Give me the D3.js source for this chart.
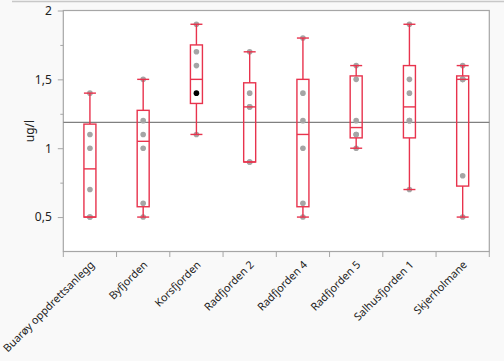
<!DOCTYPE html>
<html><head><meta charset="utf-8">
<script src="https://cdn.jsdelivr.net/npm/d3@7"></script>
<style>body{margin:0;background:#f9f9f9;}svg{display:block;}text{font-family:"Noto Sans","Open Sans",sans-serif;}</style>
</head><body>
<script>
const categories = ["Buarøy oppdrettsanlegg","Byfjorden","Korsfjorden","Radfjorden 2","Radfjorden 4","Radfjorden 5","Salhusfjorden 1","Skjerholmane"];
const values = [
  [0.5,0.5,0.7,1.0,1.1,1.4],
  [0.5,0.6,1.0,1.1,1.2,1.5],
  [1.1,1.4,1.4,1.6,1.7,1.9],
  [0.9,0.9,1.3,1.3,1.4,1.7],
  [0.5,0.6,1.0,1.2,1.4,1.8],
  [1.0,1.1,1.1,1.2,1.5,1.6],
  [0.7,1.2,1.2,1.4,1.5,1.9],
  [0.5,0.8,1.5,1.5,1.5,1.6]
];
const highlighted = [{cat:"Korsfjorden", value:1.4}];
const yTicks = [0.5,1,1.5,2];
const yMinorTicks = [0.75,1.25,1.75];
const yTickLabels = ["0,5","1","1,5","2"];
const yLabel = "ug/l";

const W=504,H=361;
const m={l:63.3,r:489.3,t:10.5,b:251.5};
const svg=d3.select("body").append("svg").attr("width",W).attr("height",H);
svg.append("rect").attr("width",W).attr("height",H).attr("fill","#f9f9f9");
svg.append("line").attr("x1",12).attr("x2",W).attr("y1",1.5).attr("y2",1.5).attr("stroke","#c8c8c8").attr("stroke-width",1.5);

const x=d3.scaleBand().domain(categories).range([m.l,m.r]);
const y=d3.scaleLinear().domain([0.25,2]).range([m.b,m.t]);

svg.append("rect").attr("x",m.l).attr("y",m.t).attr("width",m.r-m.l).attr("height",m.b-m.t).attr("fill","#fff").attr("stroke","#a6a6a6").attr("stroke-width",1.2);

// y axis
const ya=svg.append("g").attr("transform",`translate(${m.l},0)`)
  .call(d3.axisLeft(y).tickValues(yTicks).tickSize(5.5).tickFormat((d,i)=>yTickLabels[i]));
ya.select(".domain").remove();
ya.selectAll("line").attr("stroke","#a6a6a6");
ya.selectAll("text").attr("font-size",12).attr("fill","#222").attr("dx",-3);
const ym=svg.append("g").attr("transform",`translate(${m.l},0)`)
  .call(d3.axisLeft(y).tickValues(yMinorTicks).tickSize(3).tickFormat(""));
ym.select(".domain").remove();
ym.selectAll("line").attr("stroke","#a6a6a6");

// x axis
const xa=svg.append("g").attr("transform",`translate(0,${m.b})`)
  .call(d3.axisBottom(x).tickSize(0).tickFormat(""));
xa.select(".domain").remove();
const bounds=categories.map(c=>x(c)).concat([x(categories[categories.length-1])+x.bandwidth()]);
svg.append("g").selectAll("line").data(bounds).join("line")
  .attr("x1",d=>d).attr("x2",d=>d).attr("y1",m.b).attr("y2",m.b+5.5).attr("stroke","#a6a6a6");
svg.append("g").selectAll("text").data(categories).join("text")
  .attr("transform",d=>`translate(${x(d)+x.bandwidth()/2+5},${m.b+14}) rotate(-45)`)
  .attr("text-anchor","end").attr("font-size",10.8).attr("fill","#222").text(d=>d);

svg.append("text").attr("transform",`translate(34,${(m.t+m.b)/2}) rotate(-90)`)
  .attr("text-anchor","middle").attr("font-size",12).attr("fill","#222").text(yLabel);

// grand mean
const all=values.flat();
const gm=d3.mean(all);
svg.append("line").attr("x1",m.l).attr("x2",m.r).attr("y1",y(gm)).attr("y2",y(gm)).attr("stroke","#808080").attr("stroke-width",1.2);

function q(arr,p){const s=arr.slice().sort(d3.ascending);const n=s.length;const pos=p*(n+1);const i=Math.floor(pos);const f=pos-i;if(i<1)return s[0];if(i>=n)return s[n-1];return s[i-1]+f*(s[i]-s[i-1]);}
const red="#e8334d";
const bw=12;
const g=svg.append("g");
categories.forEach((c,ci)=>{
  const v=values[ci];
  const cx=x(c)+x.bandwidth()/2;
  const q1=q(v,0.25),md=q(v,0.5),q3=q(v,0.75);
  const iqr=q3-q1;
  const lo=d3.min(v.filter(d=>d>=q1-1.5*iqr)),hi=d3.max(v.filter(d=>d<=q3+1.5*iqr));
  v.forEach(d=>{
    const isH=highlighted.some(h=>h.cat===c&&h.value===d);
    if(!isH) g.append("circle").attr("cx",cx).attr("cy",y(d)).attr("r",2.8).attr("fill","#a5a5a5");
  });
  const s={fill:"none",stroke:red,"stroke-width":1.4};
  const ln=(x1,y1,x2,y2)=>{const l=g.append("line").attr("x1",x1).attr("y1",y1).attr("x2",x2).attr("y2",y2);Object.entries(s).forEach(([k,val])=>l.attr(k,val));};
  ln(cx,y(hi),cx,y(q3));
  ln(cx,y(q1),cx,y(lo));
  ln(cx-bw/2,y(hi),cx+bw/2,y(hi));
  ln(cx-bw/2,y(lo),cx+bw/2,y(lo));
  const r=g.append("rect").attr("x",cx-bw/2).attr("y",y(q3)).attr("width",bw).attr("height",y(q1)-y(q3));
  Object.entries(s).forEach(([k,val])=>r.attr(k,val));
  ln(cx-bw/2,y(md),cx+bw/2,y(md));
});
highlighted.forEach(h=>{
  g.append("circle").attr("cx",x(h.cat)+x.bandwidth()/2).attr("cy",y(h.value)).attr("r",2.8).attr("fill","#000");
});
</script>
</body></html>
